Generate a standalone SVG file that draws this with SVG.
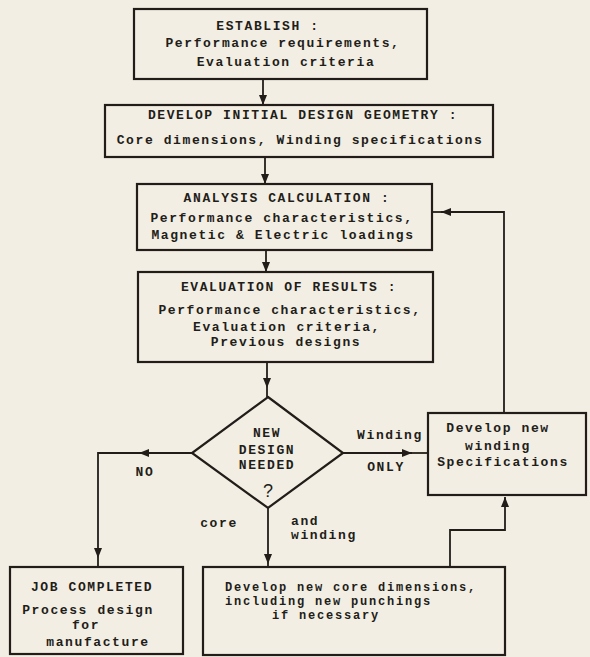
<svg xmlns="http://www.w3.org/2000/svg" width="590" height="657" viewBox="0 0 590 657">
<defs>
<style>
.bg{fill:#f3eee3}
.box{fill:none;stroke:#221d19;stroke-width:2.2}
.ln{fill:none;stroke:#221d19;stroke-width:1.8}
.t{font-family:"Liberation Mono","DejaVu Sans Mono",monospace;font-size:13px;font-weight:bold;fill:#221d19;letter-spacing:1.6px}
.m{text-anchor:middle}
.s{font-size:12px;letter-spacing:1.8px}
.q{font-family:"Liberation Sans",Arial,sans-serif;font-size:18px;fill:#221d19;text-anchor:middle}
</style>
<marker id="ah" viewBox="0 0 10 10" refX="10" refY="5" markerWidth="10" markerHeight="10" markerUnits="userSpaceOnUse" orient="auto">
<path d="M0,1 L10,5 L0,9 Z" fill="#221d19"/>
</marker>
</defs>
<rect class="bg" x="0" y="0" width="590" height="657"/>

<g id="connectors">
<path class="ln" d="M263,79 L263,105" marker-end="url(#ah)"/>
<path class="ln" d="M265,157 L265,184" marker-end="url(#ah)"/>
<path class="ln" d="M266,250 L266,272" marker-end="url(#ah)"/>
<path class="ln" d="M267,362 L267,388" marker-end="url(#ah)"/>
<path class="ln" d="M267,388 L267,397"/>
<path class="ln" d="M192,453 L139,453" marker-end="url(#ah)"/>
<path class="ln" d="M139,453 L98,453 L98,558" marker-end="url(#ah)"/>
<path class="ln" d="M98,558 L98,567"/>
<path class="ln" d="M343,453 L412,453" marker-end="url(#ah)"/>
<path class="ln" d="M412,453 L428,453"/>
<path class="ln" d="M268,508 L268,564" marker-end="url(#ah)"/>
<path class="ln" d="M268,564 L268,567"/>
<path class="ln" d="M504,413 L504,212 L441,212" marker-end="url(#ah)"/>
<path class="ln" d="M441,212 L432,212"/>
<path class="ln" d="M450,567 L450,530 L505,530 L505,497" marker-end="url(#ah)"/>
<text class="t m" x="145" y="476">NO</text>
<text class="t m" x="390" y="439">Winding</text>
<text class="t m" x="386" y="471">ONLY</text>
<text class="t m" x="219" y="527">core</text>
<text class="t" x="291" y="525">and</text>
<text class="t" x="291" y="539">winding</text>
</g>

<g id="establish">
<rect class="box" x="134" y="9" width="293" height="70"/>
<text class="t m" x="268" y="30">ESTABLISH :</text>
<text class="t m" x="283" y="47">Performance requirements,</text>
<text class="t m" x="286" y="66">Evaluation criteria</text>
</g>

<g id="initial-design">
<rect class="box" x="105" y="105" width="388" height="52"/>
<text class="t m" x="303" y="119">DEVELOP INITIAL DESIGN GEOMETRY :</text>
<text class="t m" x="300" y="144">Core dimensions, Winding specifications</text>
</g>

<g id="analysis">
<rect class="box" x="137" y="184" width="295" height="66"/>
<text class="t m" x="287" y="202">ANALYSIS CALCULATION :</text>
<text class="t m" x="282" y="222">Performance characteristics,</text>
<text class="t m" x="283" y="239">Magnetic &amp; Electric loadings</text>
</g>

<g id="evaluation">
<rect class="box" x="138" y="272" width="295" height="90"/>
<text class="t m" x="289" y="291">EVALUATION OF RESULTS :</text>
<text class="t m" x="290" y="314">Performance characteristics,</text>
<text class="t m" x="287" y="331">Evaluation criteria,</text>
<text class="t m" x="286" y="346">Previous designs</text>
</g>

<g id="decision">
<polygon class="box" points="268,397 343,453 268,508 192,453"/>
<text class="t m" x="267" y="437">NEW</text>
<text class="t m" x="267" y="454">DESIGN</text>
<text class="t m" x="267" y="469">NEEDED</text>
<text class="q" x="268" y="497">?</text>
</g>

<g id="new-winding">
<rect class="box" x="428" y="413" width="158" height="82"/>
<text class="t m" x="498" y="432">Develop new</text>
<text class="t m" x="498" y="450">winding</text>
<text class="t m" x="503" y="466">Specifications</text>
</g>

<g id="job-completed">
<rect class="box" x="10" y="567" width="173" height="87"/>
<text class="t m" x="92" y="591">JOB COMPLETED</text>
<text class="t m" x="88" y="614">Process design</text>
<text class="t m" x="86" y="629">for</text>
<text class="t m" x="98" y="646">manufacture</text>
</g>

<g id="new-core">
<rect class="box" x="203" y="567" width="302" height="88"/>
<text class="t s" x="225" y="591">Develop new core dimensions,</text>
<text class="t s" x="225" y="605">including new punchings</text>
<text class="t s" x="272" y="619">if necessary</text>
</g>
</svg>
